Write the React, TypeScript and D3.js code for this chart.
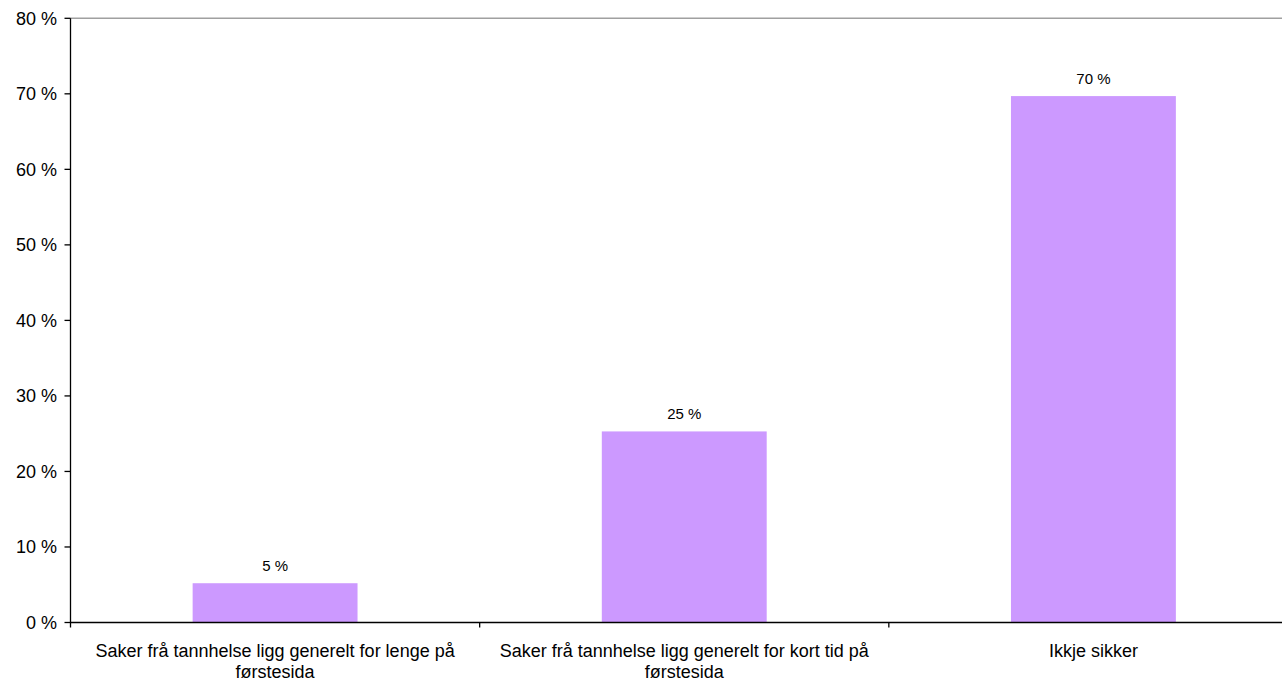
import React, { useEffect, useRef } from "react";
import * as d3 from "d3";

const categories: string[] = [
  "Saker frå tannhelse ligg generelt for lenge på førstesida",
  "Saker frå tannhelse ligg generelt for kort tid på førstesida",
  "Ikkje sikker",
];
const values: number[] = [5.2, 25.3, 69.7];
const yTicks: number[] = [0, 10, 20, 30, 40, 50, 60, 70, 80];

const W = 1282;
const H = 681;
const FONT = "'Liberation Sans', Arial, sans-serif";

export default function App() {
  const ref = useRef<SVGSVGElement | null>(null);

  useEffect(() => {
    const svg = d3.select(ref.current);
    svg.selectAll("*").remove();

    const left = 70.5;
    const right = 1298;
    const top = 18.3;
    const bottom = 622.5;

    const x = d3.scaleBand<string>().domain(categories).range([left, right]).paddingInner(0).paddingOuter(0);
    const y = d3.scaleLinear().domain([0, 80]).range([bottom, top]);
    const barW = x.bandwidth() * 0.403;

    // top border
    svg.append("line")
      .attr("x1", left).attr("x2", right)
      .attr("y1", y(80)).attr("y2", y(80))
      .attr("stroke", "#a0a0a0").attr("stroke-width", 1.5);

    // bars
    svg.selectAll("rect.bar").data(values).enter().append("rect")
      .attr("class", "bar")
      .attr("x", (_d, i) => (x(categories[i]) as number) + x.bandwidth() / 2 - barW / 2)
      .attr("width", barW)
      .attr("y", (d) => y(d))
      .attr("height", (d) => y(0) - y(d))
      .attr("fill", "#CC99FF");

    // bar labels
    svg.selectAll("text.val").data(values).enter().append("text")
      .attr("class", "val")
      .attr("x", (_d, i) => (x(categories[i]) as number) + x.bandwidth() / 2)
      .attr("y", (d) => y(d) - 12.5)
      .attr("text-anchor", "middle")
      .attr("font-family", FONT)
      .attr("font-size", 15)
      .attr("fill", "#000")
      .text((d) => `${Math.round(d)} %`);

    // y axis
    svg.append("line")
      .attr("x1", left).attr("x2", left)
      .attr("y1", y(80)).attr("y2", bottom + 5)
      .attr("stroke", "#000").attr("stroke-width", 1.3);
    yTicks.forEach((t) => {
      svg.append("line")
        .attr("x1", left - 6).attr("x2", left)
        .attr("y1", y(t)).attr("y2", y(t))
        .attr("stroke", "#000").attr("stroke-width", 1.3);
      svg.append("text")
        .attr("x", 57)
        .attr("y", y(t) + 6.5)
        .attr("text-anchor", "end")
        .attr("font-family", FONT)
        .attr("font-size", 18)
        .attr("fill", "#000")
        .text(`${t} %`);
    });

    // x axis
    svg.append("line")
      .attr("x1", left).attr("x2", right)
      .attr("y1", bottom).attr("y2", bottom)
      .attr("stroke", "#000").attr("stroke-width", 1.3);
    categories.forEach((c, i) => {
      const bx = (x(c) as number) + x.bandwidth();
      if (i < categories.length - 1) {
        svg.append("line")
          .attr("x1", bx).attr("x2", bx)
          .attr("y1", bottom).attr("y2", bottom + 5)
          .attr("stroke", "#000").attr("stroke-width", 1.3);
      }
    });

    // category labels with wrapping
    const maxW = 395;
    categories.forEach((c) => {
      const cx = (x(c) as number) + x.bandwidth() / 2;
      const t = svg.append("text")
        .attr("text-anchor", "middle")
        .attr("font-family", FONT)
        .attr("font-size", 18)
        .attr("fill", "#000");
      const words = c.split(" ");
      const lines: string[] = [];
      let cur = "";
      const probe = t.append("tspan");
      words.forEach((w) => {
        const test = cur ? cur + " " + w : w;
        probe.text(test);
        const len = (probe.node() as SVGTSpanElement).getComputedTextLength();
        if (len > maxW && cur) {
          lines.push(cur);
          cur = w;
        } else {
          cur = test;
        }
      });
      if (cur) lines.push(cur);
      probe.remove();
      lines.forEach((ln, k) => {
        t.append("tspan")
          .attr("x", cx)
          .attr("y", bottom + 34 + k * 21)
          .text(ln);
      });
    });
  }, []);

  return (
    <svg
      ref={ref}
      width={W}
      height={H}
      style={{ position: "absolute", left: 0, top: 0, background: "#fff" }}
    />
  );
}
